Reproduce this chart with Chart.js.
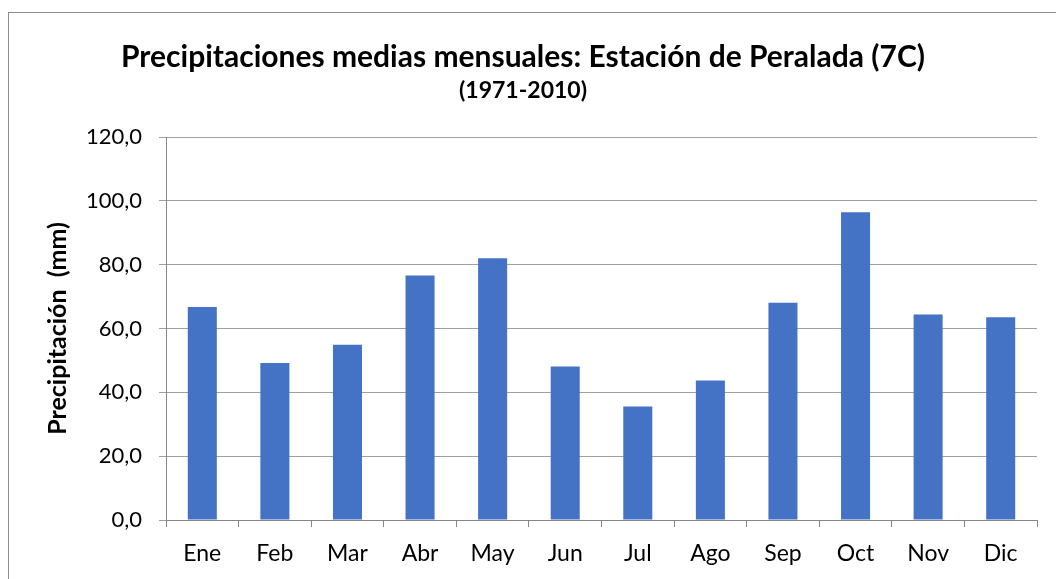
<!DOCTYPE html>
<html>
<head>
<meta charset="utf-8">
<script src="https://cdn.jsdelivr.net/npm/chart.js@4/dist/chart.umd.min.js"></script>
<style>
  html, body { margin: 0; padding: 0; background: #fff; overflow: hidden; }
  #frame {
    position: absolute; left: 8px; top: 12px;
    width: 1058px; height: 567px;
    border-left: 1px solid #8c8c8c; border-top: 1px solid #8c8c8c;
  }
</style>
</head>
<body>
<div id="frame"><canvas id="chart" width="1058" height="566"></canvas></div>
<script>
// Monthly mean precipitation, Peralada station (1971-2010)
const months = ['Ene', 'Feb', 'Mar', 'Abr', 'May', 'Jun', 'Jul', 'Ago', 'Sep', 'Oct', 'Nov', 'Dic'];
const precipitation = [66.7, 49.2, 54.9, 76.6, 82.0, 48.1, 35.6, 43.7, 68.1, 96.4, 64.4, 63.5];
const yTicks = [0, 20, 40, 60, 80, 100, 120];

const FONT = 'Lato, Carlito, Calibri, sans-serif';

new Chart(document.getElementById('chart'), {
    type: 'bar',
    data: {
        labels: months,
        datasets: [{
            label: 'Precipitación (mm)',
            data: precipitation,
            backgroundColor: '#4472C4',
            barPercentage: 0.8,
            categoryPercentage: 0.5
        }]
    },
    options: {
        responsive: false,
        animation: false,
        layout: { padding: { left: 0, right: 30, top: 0, bottom: 0 } },
        plugins: {
            legend: { display: false },
            tooltip: { enabled: false },
            title: {
                display: true,
                text: 'Precipitaciones medias mensuales: Estación de Peralada (7C)',
                color: '#000',
                font: { family: FONT, size: 30, weight: 'bold', lineHeight: 1.1 },
                padding: { top: 28, bottom: 0 }
            },
            subtitle: {
                display: true,
                text: '(1971-2010)',
                color: '#000',
                font: { family: FONT, size: 23, weight: 'bold', lineHeight: 1.0 },
                padding: { top: 5, bottom: 35 }
            }
        },
        scales: {
            x: {
                grid: {
                    drawOnChartArea: false,
                    drawTicks: true,
                    tickLength: 7,
                    color: '#868686'
                },
                border: { color: '#868686', width: 1 },
                ticks: {
                    color: '#000',
                    padding: 13,
                    font: { family: FONT, size: 23 }
                },
                afterFit: (scale) => { scale.height = 59; }
            },
            y: {
                min: 0,
                max: 120,
                afterBuildTicks: (scale) => { scale.ticks = yTicks.map(v => ({ value: v })); },
                grid: {
                    color: '#a0a0a0',
                    tickLength: 7
                },
                border: { color: '#868686', width: 1 },
                ticks: {
                    color: '#000',
                    padding: 17,
                    font: { family: FONT, size: 22 },
                    callback: (v) => v.toFixed(1).replace('.', ',')
                },
                title: {
                    display: true,
                    text: 'Precipitación  (mm)',
                    color: '#000',
                    font: { family: FONT, size: 25, weight: 'bold', lineHeight: 1.2 },
                    padding: { top: 34, bottom: 0 }
                },
                afterFit: (scale) => { scale.width = 157; }
            }
        }
    }
});
</script>
</body>
</html>
